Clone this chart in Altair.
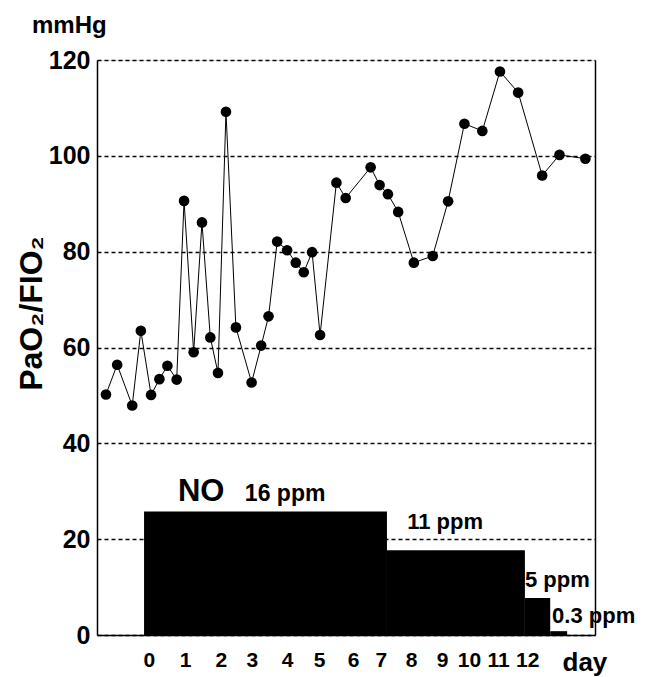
import altair as alt
import pandas as pd

FONT = "Liberation Sans"

# PaO2/FIO2 readings (x in days, y in mmHg)
days = [-1.25, -0.90, -0.43, -0.16, 0.16, 0.42, 0.67, 0.96, 1.19, 1.49,
        1.75, 2.01, 2.25, 2.50, 2.81, 3.30, 3.60, 3.83, 4.10, 4.41,
        4.68, 4.93, 5.19, 5.44, 5.95, 6.24, 7.02, 7.30, 7.56, 7.88,
        8.37, 8.96, 9.44, 9.95, 10.51, 11.06, 11.63, 12.38, 12.92, 13.73]
ratio = [50.2, 56.4, 47.9, 63.5, 50.1, 53.4, 56.2, 53.3, 90.6, 59.0,
         86.1, 62.1, 54.7, 109.2, 64.2, 52.7, 60.4, 66.5, 82.1, 80.3,
         77.7, 75.7, 79.9, 62.6, 94.4, 91.2, 97.6, 93.9, 92.0, 88.3,
         77.7, 79.1, 90.5, 106.7, 105.2, 117.6, 113.2, 95.9, 100.2, 99.4]

# NO dose periods (drawn as black blocks)
no_start = [-0.06, 7.53, 11.84, 12.63]
no_end = [7.53, 11.84, 12.63, 13.16]
no_level = [25.8, 17.7, 7.7, 0.8]

# annotation texts and their anchor (day, value)
ann_text = ["NO", "16 ppm", "11 ppm", "5 ppm", "0.3 ppm"]
ann_day = [1.0, 3.09, 8.16, 11.84, 12.69]
ann_val = [29.8, 29.4, 23.5, 11.5, 4.0]
ann_size = [31, 23, 22, 22, 22]

# x tick labels and where they sit on the day axis
tick_labels = list(range(13))
tick_pos = [0.09, 1.22, 2.34, 3.31, 4.41, 5.41, 6.47, 7.34, 8.28, 9.25, 10.09, 11.0, 11.91]
y_ticks = [0, 20, 40, 60, 80, 100, 120]

pts = pd.DataFrame({"day": days, "ratio": ratio})
bars = pd.DataFrame({"start": no_start, "end": no_end, "level": no_level})
ann = pd.DataFrame({"day": ann_day, "val": ann_val, "label": ann_text, "size": ann_size})

xscale = alt.Scale(domain=[-1.53, 14.03], nice=False, zero=False)
yscale = alt.Scale(domain=[0, 120], nice=False, zero=True)

x_axis = alt.Axis(
    values=tick_pos,
    labelExpr="format(round(datum.value), 'd')",
    title="day",
    titleX=465, titleY=35, titleAlign="left", titleBaseline="alphabetic",
    titleFontSize=26, titleFont=FONT, titleFontWeight="bold", titleColor="black",
    labelFont=FONT, labelFontSize=21, labelFontWeight="bold", labelColor="black",
    labelPadding=14, tickSize=0, grid=False,
    domainColor="black", domainWidth=1.5,
)

y_left = alt.Axis(
    values=y_ticks, orient="left",
    grid=True, gridDash=[4, 3], gridColor="black", gridWidth=1.3, gridOpacity=1,
    domainColor="black", domainWidth=1.5, tickSize=0,
    labelFont=FONT, labelFontSize=25, labelFontWeight="bold", labelColor="black",
    labelPadding=7,
    title="PaO₂/FIO₂", titleFont=FONT, titleFontSize=32, titleFontWeight="bold",
    titleColor="black", titleAngle=270, titleX=-66, titleY=253,
    titleAlign="center", titleBaseline="middle",
)

y_right = alt.Axis(
    orient="right", labels=False, ticks=False, grid=False, title=None,
    domainColor="black", domainWidth=1.5,
)

bar_layer = alt.Chart(bars).mark_rect(color="black").encode(
    x=alt.X("start:Q", scale=xscale, axis=x_axis),
    x2="end:Q",
    y=alt.Y("level:Q", scale=yscale, axis=y_right),
    y2=alt.datum(0),
)

line_layer = alt.Chart(pts).mark_line(color="black", strokeWidth=1).encode(
    x=alt.X("day:Q", scale=xscale, axis=x_axis),
    y=alt.Y("ratio:Q", scale=yscale, axis=None),
)

pt_layer = alt.Chart(pts).mark_circle(color="black", size=113, opacity=1).encode(
    x=alt.X("day:Q", scale=xscale, axis=x_axis),
    y=alt.Y("ratio:Q", scale=yscale, axis=y_left),
)

text_layer = alt.Chart(ann).mark_text(
    align="left", baseline="middle", font=FONT, fontWeight="bold", color="black"
).encode(
    x=alt.X("day:Q", scale=xscale, axis=x_axis),
    y=alt.Y("val:Q", scale=yscale, axis=None),
    text="label:N",
    size=alt.Size("size:Q", scale=None, legend=None),
)

chart = alt.layer(bar_layer, line_layer, pt_layer, text_layer).resolve_scale(
    y="independent"
).properties(
    width=498, height=575,
    autosize=alt.AutoSizeParams(type="none"),
    padding={"left": 89, "top": 52, "right": 51, "bottom": 42},
    title=alt.TitleParams(
        text="mmHg", anchor="start", frame="group", dx=-65, offset=-9,
        fontSize=24, font=FONT, fontWeight="bold", color="black",
        baseline="alphabetic",
    ),
).configure_view(stroke=None).configure(background="white")

chart.save("out.html", embed_options={"renderer": "svg", "actions": False})
